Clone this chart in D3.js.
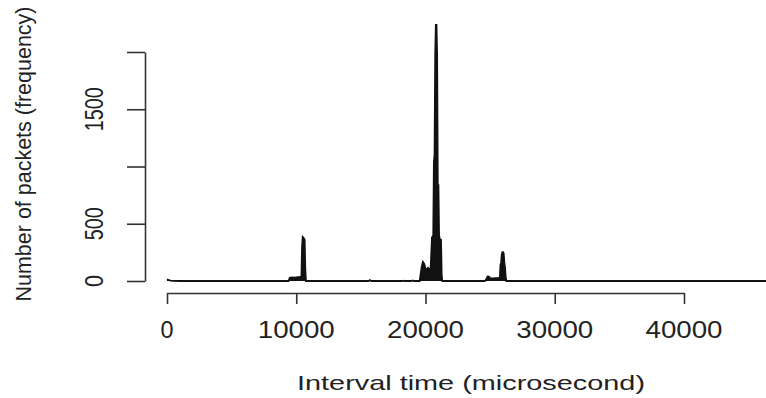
<!DOCTYPE html>
<html>
<head>
<meta charset="utf-8">
<script src="https://cdn.jsdelivr.net/npm/d3@7"></script>
<style>
  body { margin: 0; background: #fff; }
  svg { display: block; }
  text { font-family: "Liberation Sans", Arial, Helvetica, sans-serif; fill: #222; }
</style>
</head>
<body>
<div id="chart"></div>
<script>
// interval time bins (microsecond) and packet counts
var binTimes = [
  0, 100, 200, 300, 500, 1000,
  9400, 9500, 9700, 9900, 10100, 10300, 10400, 10450, 10500, 10550, 10600, 10650, 10700, 10750,
  15600, 15700, 15800,
  18200, 18300, 18400, 18900, 19000, 19100,
  19550, 19600, 19700, 19800, 19900, 20000, 20100, 20200, 20300, 20400,
  20500, 20550, 20600, 20650, 20700, 20750, 20800, 20850, 20900, 20950,
  21000, 21050, 21100, 21150, 21200, 21250, 21300,
  24600, 24700, 24800, 24900, 25000, 25200, 25400, 25600, 25750, 25800,
  25850, 25900, 25950, 26000, 26050, 26100, 26150, 26200, 26250,
  60000
];
var packetCounts = [
  15, 10, 6, 3, 1, 0,
  0, 28, 32, 30, 34, 36, 40, 300, 385, 380, 370, 360, 100, 0,
  0, 8, 0,
  0, 3, 0, 0, 5, 0,
  0, 40, 120, 166, 150, 110, 100, 115, 105, 110,
  380, 390, 400, 1040, 1100, 1970, 2236, 2236, 1970, 838,
  838, 400, 370, 360, 360, 60, 0,
  0, 15, 40, 38, 25, 22, 24, 26, 30, 140,
  160, 230, 253, 253, 240, 160, 120, 40, 0,
  0
];

var xTicks = [0, 10000, 20000, 30000, 40000];
var yTicks = [0, 500, 1000, 1500, 2000];
var yTickLabels = [0, 500, 1500];

var width = 766, height = 398;

var x = d3.scaleLinear().domain([0, 40000]).range([167, 684]);
var y = d3.scaleLinear().domain([0, 2000]).range([281, 52]);

var svg = d3.select("#chart").append("svg")
  .attr("width", width)
  .attr("height", height);

// data: dense bins drawn as a solid black mass
var points = binTimes.map(function (t, i) { return [t, packetCounts[i]]; });

var area = d3.area()
  .x(function (d) { return x(d[0]); })
  .y0(y(0))
  .y1(function (d) { return y(d[1]); });

var line = d3.line()
  .x(function (d) { return x(d[0]); })
  .y(function (d) { return y(d[1]); });

svg.append("path")
  .datum(points)
  .attr("fill", "#111")
  .attr("d", area);

svg.append("path")
  .datum(points)
  .attr("fill", "none")
  .attr("stroke", "#111")
  .attr("stroke-width", 1.8)
  .attr("d", line);

// axes
var xAxis = svg.append("g")
  .attr("transform", "translate(0,293)")
  .call(d3.axisBottom(x).tickValues(xTicks).tickSize(11).tickSizeOuter(0).tickFormat(""));

var yAxis = svg.append("g")
  .attr("transform", "translate(145,0)")
  .call(d3.axisLeft(y).tickValues(yTicks).tickSize(18).tickSizeOuter(0).tickFormat(""));

[xAxis, yAxis].forEach(function (g) {
  g.selectAll("path, line").attr("stroke", "#333").attr("stroke-width", 1.6);
});

// tick labels
var xLabelLen = function (d) { return d === 0 ? 13 : 77; };
svg.selectAll(".xlab")
  .data(xTicks)
  .enter()
  .append("text")
    .attr("class", "xlab")
    .attr("x", function (d) { return x(d); })
    .attr("y", 338)
    .attr("text-anchor", "middle")
    .attr("font-size", 23)
    .attr("textLength", xLabelLen)
    .attr("lengthAdjust", "spacingAndGlyphs")
    .text(function (d) { return d; });

var yLabelLen = function (d) { return d === 0 ? 12 : (d < 1000 ? 33 : 44); };
svg.selectAll(".ylab")
  .data(yTickLabels)
  .enter()
  .append("text")
    .attr("class", "ylab")
    .attr("transform", function (d) { return "translate(103," + y(d) + ") rotate(-90)"; })
    .attr("text-anchor", "middle")
    .attr("font-size", 25)
    .attr("textLength", yLabelLen)
    .attr("lengthAdjust", "spacingAndGlyphs")
    .text(function (d) { return d; });

// axis titles
svg.append("text")
  .attr("x", 471)
  .attr("y", 390)
  .attr("text-anchor", "middle")
  .attr("font-size", 21)
  .attr("textLength", 348)
  .attr("lengthAdjust", "spacingAndGlyphs")
  .text("Interval time (microsecond)");

svg.append("text")
  .attr("transform", "translate(31,154) rotate(-90)")
  .attr("text-anchor", "middle")
  .attr("font-size", 22)
  .attr("textLength", 295)
  .attr("lengthAdjust", "spacingAndGlyphs")
  .text("Number of packets (frequency)");
</script>
</body>
</html>
